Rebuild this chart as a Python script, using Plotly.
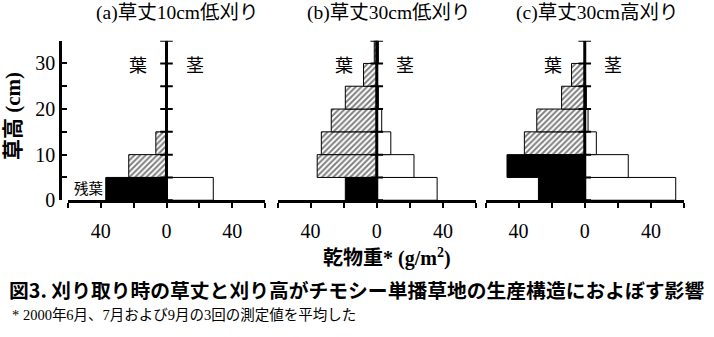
import plotly.graph_objects as go

# ---- data (g/m2) per 5-cm height layer ----
layers = [2.5, 7.5, 12.5, 17.5, 22.5, 27.5, 32.5]
panel_titles = ["(a)草丈10cm低刈り", "(b)草丈30cm低刈り", "(c)草丈30cm高刈り"]
# residual leaves (black), leaves (hatched), stems (white)
resid_a = [37, None, None, None, None, None, None]
leaf_a = [None, 23, 6.5, None, None, None, None]
stem_a = [28.5, None, None, None, None, None, None]

resid_b = [19, None, None, None, None, None, None]
leaf_b = [None, 36, 33.5, 27.5, 19, 8, 1.5]
stem_b = [36.5, 22.5, 8.5, 3, 1, 0.5, 1]

resid_c = [28, 47, None, None, None, None, None]
leaf_c = [None, None, 36.5, 29, 14, 8, None]
stem_c = [55, 26.3, 7, 2, 1, None, None]

x_tickvals = [-40, 0, 40]
x_ticktext = ["40", "0", "40"]
y_tickvals = [0, 10, 20, 30]
y_ticktext = ["0", "10", "20", "30"]
centre_ticks = [0, 5, 10, 15, 20, 25, 30, 35]

W, H = 714, 337
SERIF = "Liberation Serif, Noto Sans CJK JP"
GOTH = "Noto Sans CJK JP"

panels = [(resid_a, leaf_a, stem_a), (resid_b, leaf_b, stem_b), (resid_c, leaf_c, stem_c)]
x_domains_px = [(68, 265), (277.5, 476), (485.5, 684)]
y_dom = [(H - 207) / H, (H - 42) / H]

fig = go.Figure()

def neg(lst):
    return [(-v if v is not None else None) for v in lst]

for i, (resid, leaf, stem) in enumerate(panels):
    xa = "x" if i == 0 else f"x{i+1}"
    ya = "y" if i == 0 else f"y{i+1}"
    fig.add_trace(go.Bar(y=layers, x=stem, orientation="h", width=5, xaxis=xa, yaxis=ya,
                         marker=dict(color="white", line=dict(color="black", width=1)),
                         showlegend=False))
    fig.add_trace(go.Bar(y=layers, x=neg(leaf), orientation="h", width=5, xaxis=xa, yaxis=ya,
                         marker=dict(color="white", line=dict(color="black", width=1),
                                     pattern=dict(shape="/", fgcolor="black", bgcolor="white",
                                                  size=4, solidity=0.5)),
                         showlegend=False))
    fig.add_trace(go.Bar(y=layers, x=neg(resid), orientation="h", width=5, xaxis=xa, yaxis=ya,
                         marker=dict(color="black", line=dict(color="black", width=1)),
                         showlegend=False))
    # centre axis with cross ticks
    fig.add_trace(go.Scatter(x=[0] * len(centre_ticks), y=centre_ticks, mode="lines+markers",
                             xaxis=xa, yaxis=ya, hoverinfo="skip",
                             line=dict(color="black", width=3),
                             marker=dict(symbol="line-ew-open", size=9,
                                         line=dict(color="black", width=2)),
                             showlegend=False))

layout = dict(width=W, height=H, margin=dict(l=0, r=0, t=0, b=0),
              paper_bgcolor="white", plot_bgcolor="white", barmode="overlay",
              showlegend=False)

for i in range(3):
    xk = "xaxis" if i == 0 else f"xaxis{i+1}"
    yk = "yaxis" if i == 0 else f"yaxis{i+1}"
    yref = "y" if i == 0 else f"y{i+1}"
    d0, d1 = x_domains_px[i]
    layout[xk] = dict(domain=[d0 / W, d1 / W], range=[-60, 60], anchor=yref,
                      showgrid=False, zeroline=False, showline=True, linecolor="black",
                      linewidth=2.5, ticks="outside", ticklen=5, tickwidth=2,
                      tickcolor="black", tickvals=x_tickvals, ticktext=x_ticktext,
                      ticklabelstandoff=6,
                      minor=dict(tickvals=[-60, -20, 20, 60], ticks="outside", ticklen=5,
                                 tickwidth=2, tickcolor="black", showgrid=False),
                      tickfont=dict(family="Liberation Serif", size=20, color="black"),
                      fixedrange=True)
    if i == 0:
        layout[yk] = dict(domain=y_dom, range=[0, 35], anchor="free", position=60 / W,
                          showgrid=False, zeroline=False, showline=True, linecolor="black",
                          linewidth=2.5, ticks="inside", ticklen=5, tickwidth=2,
                          tickcolor="black", tickvals=y_tickvals, ticktext=y_ticktext,
                          minor=dict(tickvals=[5, 15, 25, 35], ticks="inside", ticklen=5,
                                     tickwidth=2, tickcolor="black", showgrid=False),
                          tickfont=dict(family="Liberation Serif", size=20, color="black"),
                          fixedrange=True)
    else:
        layout[yk] = dict(domain=y_dom, range=[0, 35], anchor=f"x{i+1}",
                          visible=False, showgrid=False, zeroline=False, fixedrange=True)

fig.update_layout(**layout)

ann = []
title_cx = [177, 389, 597]
for i, t in enumerate(panel_titles):
    ann.append(dict(text=t, x=title_cx[i] / W, y=1 - 13 / H, xref="paper", yref="paper",
                    showarrow=False, xanchor="center", yanchor="middle",
                    font=dict(family=SERIF, size=19.5, color="black")))

# 葉 / 茎 labels in data coordinates
leaf_lbl_x = [-17.5, -20, -19]
stem_lbl_x = [17.5, 17, 17]
for i in range(3):
    xr = "x" if i == 0 else f"x{i+1}"
    yr = "y" if i == 0 else f"y{i+1}"
    ann.append(dict(text="葉", x=leaf_lbl_x[i], y=29.8, xref=xr, yref=yr, showarrow=False,
                    font=dict(family=GOTH, size=18, color="black")))
    ann.append(dict(text="茎", x=stem_lbl_x[i], y=29.8, xref=xr, yref=yr, showarrow=False,
                    font=dict(family=GOTH, size=18, color="black")))

ann.append(dict(text="残葉", x=-47, y=2.8, xref="x", yref="y", showarrow=False,
                font=dict(family=GOTH, size=14.5, color="black")))

ann.append(dict(text="<b>草高 (cm)</b>", x=13 / W, y=1 - 120 / H, xref="paper", yref="paper",
                showarrow=False, textangle=-90, xanchor="center", yanchor="middle",
                font=dict(family=SERIF, size=21, color="black")))
ann.append(dict(text="<b>乾物重* (g/m<sup>2</sup>)</b>", x=387 / W, y=1 - 266 / H,
                xref="paper", yref="paper", showarrow=False, xanchor="center",
                yanchor="middle", font=dict(family=SERIF, size=20, color="black")))
ann.append(dict(text="<b>図3. 刈り取り時の草丈と刈り高がチモシー単播草地の生産構造におよぼす影響</b>",
                x=7 / W, y=1 - 299 / H, xref="paper", yref="paper", showarrow=False,
                xanchor="left", yanchor="middle",
                font=dict(family=GOTH, size=19.8, color="black")))
ann.append(dict(text="* 2000年6月、7月および9月の3回の測定値を平均した",
                x=10 / W, y=1 - 326 / H, xref="paper", yref="paper", showarrow=False,
                xanchor="left", yanchor="middle",
                font=dict(family=SERIF, size=14.5, color="black")))

fig.update_layout(annotations=ann)
fig.write_html("out.html")
